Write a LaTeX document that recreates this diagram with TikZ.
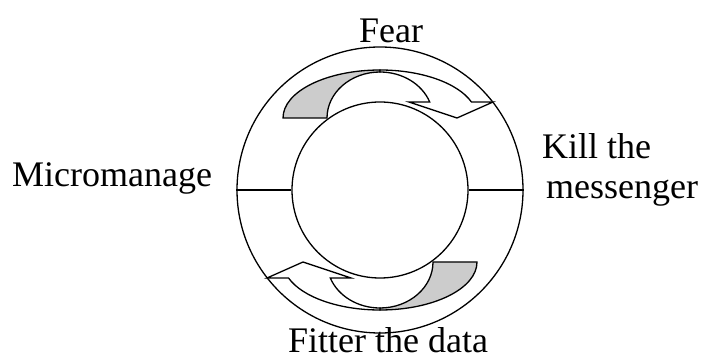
\documentclass[tikz,border=0pt]{standalone}
\usepackage{fontspec}
\setmainfont{Liberation Serif}
\begin{document}
\begin{tikzpicture}[x=1pt,y=1pt,
  ring/.style={draw=black,line width=1.3pt,circle,inner sep=0pt,fill=white},
  band/.style={draw=black,line width=1.3pt,line join=miter},
  backband/.style={band,fill=black!20},
  frontband/.style={band,fill=white},
  lbl/.style={anchor=base west,inner sep=0pt,font=\fontsize{36}{43}\selectfont},
  spoke/.style={draw=black,line width=1.3pt}]
\useasboundingbox (0,0) rectangle (704,356);
\node[ring,minimum size=286pt] (outer) at (380,166) {};
\node[ring,minimum size=176pt] (inner) at (380,166) {};
\draw[spoke] (outer.west) -- (inner.west);
\draw[spoke] (inner.east) -- (outer.east);
% top curved arrow
\begin{scope}
\path[backband] (283,238) arc[start angle=180,end angle=90,x radius=97,y radius=48]
  -- (380,284) arc[start angle=90,end angle=180,x radius=53,y radius=46] -- cycle;
\path[frontband] (380,286) arc[start angle=90,end angle=19.47,x radius=97,y radius=48]
  -- (493,254) -- (457,238) -- (409,254) -- (429.7,254)
  arc[start angle=20.35,end angle=90,x radius=53,y radius=46] -- cycle;
\end{scope}
% bottom curved arrow
\begin{scope}[rotate around={180:(380,166)}]
\path[backband] (283,238) arc[start angle=180,end angle=90,x radius=97,y radius=48]
  -- (380,284) arc[start angle=90,end angle=180,x radius=53,y radius=46] -- cycle;
\path[frontband] (380,286) arc[start angle=90,end angle=19.47,x radius=97,y radius=48]
  -- (493,254) -- (457,238) -- (409,254) -- (429.7,254)
  arc[start angle=20.35,end angle=90,x radius=53,y radius=46] -- cycle;
\end{scope}
\node[lbl] (fear) at (359,313) {Fear};
\node[lbl] (micro) at (12,169) {Micromanage};
\node[lbl] (kill) at (542,197) {Kill the};
\node[lbl] (mess) at (546,157) {messenger};
\node[lbl] (fitter) at (288,4) {Fitter the data};
\end{tikzpicture}
\end{document}
